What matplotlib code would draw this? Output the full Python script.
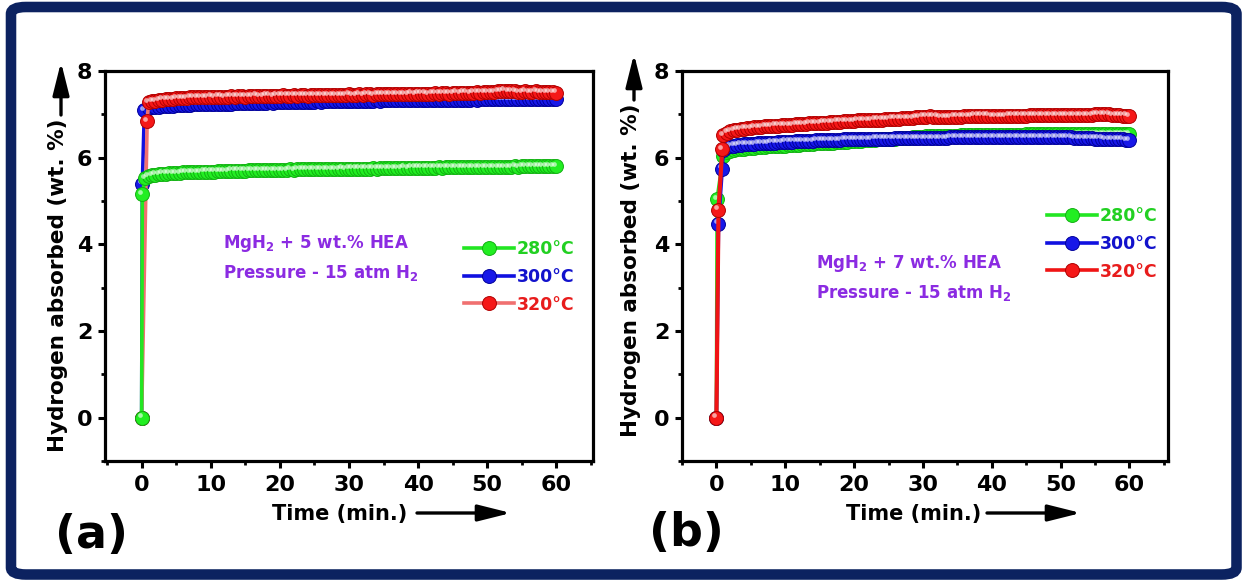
import numpy as np
import matplotlib
matplotlib.use("Agg")
import matplotlib.pyplot as plt
from matplotlib import transforms
from matplotlib.patches import FancyBboxPatch
from matplotlib.lines import Line2D
from matplotlib.ticker import MultipleLocator

# ---------------- data ----------------
labels = ["280°C", "300°C", "320°C"]
xticks = [0, 10, 20, 30, 40, 50, 60]
yticks = [0, 2, 4, 6, 8]

# common sampling grid after the first minute (every 0.5 min, 1 .. 60 min)
tail_time = np.arange(1.0, 60.01, 0.5)

# ---- panel (a): MgH2 + 5 wt.% HEA ----
a280_t0 = [0.0, 0.1, 0.5]
a280_y0 = [0.0, 5.15, 5.52]
a280_tail = [5.58, 5.60, 5.61, 5.62, 5.63, 5.63, 5.64, 5.64, 5.65, 5.65,
             5.66, 5.66, 5.66, 5.67, 5.67, 5.67, 5.68, 5.68, 5.68, 5.68,
             5.69, 5.69, 5.69, 5.69, 5.70, 5.70, 5.70, 5.70, 5.70, 5.71,
             5.71, 5.71, 5.71, 5.71, 5.72, 5.71, 5.72, 5.72, 5.72, 5.72,
             5.72, 5.73, 5.72, 5.73, 5.73, 5.73, 5.73, 5.73, 5.74, 5.73,
             5.74, 5.74, 5.74, 5.74, 5.74, 5.74, 5.75, 5.74, 5.75, 5.75,
             5.75, 5.75, 5.75, 5.75, 5.75, 5.76, 5.75, 5.76, 5.76, 5.76,
             5.76, 5.76, 5.76, 5.76, 5.77, 5.76, 5.77, 5.77, 5.77, 5.77,
             5.77, 5.77, 5.77, 5.77, 5.78, 5.77, 5.78, 5.78, 5.78, 5.78,
             5.78, 5.78, 5.78, 5.78, 5.78, 5.79, 5.78, 5.79, 5.79, 5.79,
             5.79, 5.79, 5.79, 5.79, 5.79, 5.79, 5.80, 5.79, 5.80, 5.80,
             5.80, 5.80, 5.80, 5.80, 5.80, 5.80, 5.80, 5.80, 5.80]

a300_t0 = [0.0, 0.1, 0.4]
a300_y0 = [0.0, 5.40, 7.10]
a300_tail = [7.14, 7.16, 7.17, 7.18, 7.19, 7.19, 7.20, 7.20, 7.21, 7.21,
             7.22, 7.22, 7.22, 7.23, 7.23, 7.23, 7.24, 7.24, 7.24, 7.24,
             7.25, 7.25, 7.25, 7.25, 7.25, 7.26, 7.26, 7.26, 7.26, 7.26,
             7.27, 7.27, 7.27, 7.27, 7.27, 7.28, 7.27, 7.28, 7.28, 7.28,
             7.28, 7.28, 7.29, 7.28, 7.29, 7.29, 7.29, 7.29, 7.29, 7.30,
             7.29, 7.30, 7.30, 7.30, 7.30, 7.30, 7.30, 7.31, 7.30, 7.31,
             7.31, 7.31, 7.31, 7.31, 7.31, 7.31, 7.32, 7.31, 7.32, 7.32,
             7.32, 7.32, 7.32, 7.32, 7.32, 7.33, 7.32, 7.33, 7.33, 7.33,
             7.33, 7.33, 7.33, 7.33, 7.34, 7.33, 7.34, 7.34, 7.34, 7.34,
             7.34, 7.34, 7.34, 7.34, 7.35, 7.34, 7.35, 7.35, 7.35, 7.35,
             7.35, 7.35, 7.35, 7.35, 7.35, 7.36, 7.35, 7.36, 7.36, 7.36,
             7.36, 7.36, 7.36, 7.36, 7.36, 7.36, 7.35, 7.35, 7.35]

a320_t0 = [0.0, 0.8]
a320_y0 = [0.0, 6.85]
a320_tail = [7.28, 7.30, 7.31, 7.33, 7.34, 7.35, 7.35, 7.36, 7.37, 7.37,
             7.38, 7.38, 7.39, 7.39, 7.40, 7.39, 7.40, 7.40, 7.41, 7.40,
             7.41, 7.41, 7.40, 7.41, 7.42, 7.41, 7.42, 7.42, 7.41, 7.42,
             7.42, 7.43, 7.42, 7.42, 7.43, 7.43, 7.42, 7.43, 7.43, 7.44,
             7.43, 7.43, 7.44, 7.43, 7.44, 7.44, 7.43, 7.44, 7.44, 7.45,
             7.44, 7.44, 7.45, 7.44, 7.45, 7.45, 7.44, 7.45, 7.46, 7.45,
             7.45, 7.46, 7.45, 7.46, 7.46, 7.45, 7.46, 7.47, 7.46, 7.46,
             7.47, 7.46, 7.47, 7.47, 7.46, 7.47, 7.48, 7.47, 7.48, 7.48,
             7.48, 7.47, 7.48, 7.49, 7.48, 7.49, 7.49, 7.48, 7.49, 7.50,
             7.49, 7.50, 7.50, 7.49, 7.50, 7.51, 7.50, 7.51, 7.52, 7.51,
             7.52, 7.53, 7.54, 7.55, 7.54, 7.53, 7.53, 7.52, 7.52, 7.53,
             7.52, 7.52, 7.53, 7.52, 7.51, 7.52, 7.51, 7.51, 7.50]

# ---- panel (b): MgH2 + 7 wt.% HEA ----
b280_t0 = [0.0, 0.1]
b280_y0 = [0.0, 5.05]
b280_tail = [6.05, 6.12, 6.15, 6.17, 6.19, 6.20, 6.21, 6.22, 6.23, 6.23,
             6.24, 6.24, 6.25, 6.26, 6.26, 6.27, 6.27, 6.28, 6.28, 6.29,
             6.29, 6.30, 6.30, 6.31, 6.31, 6.32, 6.32, 6.33, 6.33, 6.34,
             6.34, 6.35, 6.35, 6.36, 6.36, 6.37, 6.37, 6.38, 6.38, 6.39,
             6.39, 6.40, 6.40, 6.41, 6.41, 6.42, 6.42, 6.43, 6.43, 6.44,
             6.44, 6.45, 6.45, 6.46, 6.46, 6.47, 6.47, 6.48, 6.48, 6.49,
             6.49, 6.49, 6.50, 6.50, 6.50, 6.51, 6.51, 6.51, 6.51, 6.52,
             6.52, 6.52, 6.52, 6.52, 6.52, 6.53, 6.53, 6.53, 6.53, 6.53,
             6.53, 6.53, 6.53, 6.53, 6.53, 6.53, 6.53, 6.53, 6.54, 6.54,
             6.54, 6.54, 6.54, 6.54, 6.54, 6.54, 6.54, 6.54, 6.54, 6.54,
             6.54, 6.54, 6.54, 6.54, 6.54, 6.54, 6.54, 6.54, 6.54, 6.54,
             6.54, 6.54, 6.54, 6.54, 6.54, 6.54, 6.54, 6.54, 6.54]

b300_t0 = [0.0, 0.3, 0.85]
b300_y0 = [0.0, 4.48, 5.75]
b300_tail = [6.18, 6.24, 6.27, 6.28, 6.29, 6.30, 6.31, 6.31, 6.32, 6.32,
             6.33, 6.33, 6.34, 6.34, 6.35, 6.35, 6.36, 6.36, 6.37, 6.37,
             6.37, 6.38, 6.38, 6.38, 6.39, 6.39, 6.39, 6.40, 6.40, 6.40,
             6.40, 6.41, 6.41, 6.41, 6.41, 6.42, 6.42, 6.42, 6.42, 6.43,
             6.43, 6.43, 6.43, 6.43, 6.44, 6.44, 6.44, 6.44, 6.44, 6.44,
             6.45, 6.45, 6.45, 6.45, 6.45, 6.45, 6.45, 6.46, 6.46, 6.46,
             6.46, 6.46, 6.46, 6.46, 6.46, 6.46, 6.47, 6.47, 6.47, 6.47,
             6.47, 6.47, 6.47, 6.47, 6.47, 6.47, 6.47, 6.47, 6.47, 6.47,
             6.47, 6.47, 6.47, 6.48, 6.48, 6.48, 6.48, 6.48, 6.48, 6.48,
             6.48, 6.48, 6.48, 6.48, 6.48, 6.48, 6.48, 6.47, 6.47, 6.47,
             6.47, 6.47, 6.46, 6.46, 6.46, 6.45, 6.45, 6.45, 6.44, 6.44,
             6.44, 6.43, 6.43, 6.43, 6.42, 6.42, 6.42, 6.41, 6.41]

b320_t0 = [0.0, 0.3, 0.85]
b320_y0 = [0.0, 4.80, 6.20]
b320_tail = [6.52, 6.58, 6.61, 6.63, 6.65, 6.66, 6.67, 6.68, 6.69, 6.70,
             6.70, 6.71, 6.72, 6.72, 6.73, 6.74, 6.74, 6.75, 6.75, 6.76,
             6.76, 6.77, 6.77, 6.78, 6.78, 6.79, 6.79, 6.80, 6.80, 6.81,
             6.81, 6.82, 6.82, 6.83, 6.83, 6.84, 6.84, 6.85, 6.85, 6.86,
             6.86, 6.86, 6.87, 6.87, 6.88, 6.88, 6.88, 6.89, 6.89, 6.90,
             6.90, 6.90, 6.91, 6.91, 6.92, 6.92, 6.93, 6.94, 6.95, 6.95,
             6.96, 6.95, 6.95, 6.94, 6.94, 6.94, 6.94, 6.95, 6.95, 6.95,
             6.96, 6.96, 6.96, 6.97, 6.97, 6.97, 6.97, 6.97, 6.96, 6.96,
             6.96, 6.96, 6.96, 6.97, 6.97, 6.97, 6.97, 6.97, 6.97, 6.98,
             6.98, 6.98, 6.98, 6.98, 6.98, 6.98, 6.98, 6.98, 6.98, 6.98,
             6.98, 6.98, 6.98, 6.98, 6.98, 6.99, 6.99, 6.99, 7.00, 7.00,
             7.01, 7.01, 7.00, 6.99, 6.98, 6.98, 6.97, 6.97, 6.96]

# ---------------- style ----------------
plt.rcParams["font.family"] = ["DejaVu Sans"]
plt.rcParams["font.weight"] = "bold"
plt.rcParams["axes.labelweight"] = "bold"

GREEN = dict(face="#22EE22", edge="#12B012", line="#22E622", text="#22D022")
BLUE = dict(face="#1818E8", edge="#00009A", line="#1010E0", text="#1212CC")
RED = dict(face="#F51818", edge="#B00000", line="#F01414", text="#E81C1C")
RED_A = dict(face="#F51818", edge="#B00000", line="#F07070", text="#E81C1C")
PURPLE = "#8B2BE2"
NAVY = "#0C2260"
MS = 10.0

W, H = 1242, 580
fig = plt.figure(figsize=(W / 100, H / 100), dpi=100)


def fx(x):
    return x / W


def fy(y):
    return 1 - y / H


def series(t0, y0, tail):
    return np.concatenate([t0, tail_time]), np.concatenate([y0, tail])


def draw(ax, t, y, c, lw=2.6):
    ax.plot(t, y, "-", color=c["line"], lw=lw, marker="o", ms=MS,
            mfc=c["face"], mec=c["edge"], mew=0.7, clip_on=False)
    hl = transforms.offset_copy(ax.transData, fig=fig, x=-1.5, y=1.6, units="points")
    ax.plot(t, y, "o", ms=3.4, color="white", alpha=0.6, mec="none",
            transform=hl, clip_on=False)


def style_axes(ax, xlim):
    ax.set_xlim(*xlim)
    ax.set_ylim(-1, 8)
    ax.set_xticks(xticks)
    ax.set_yticks(yticks)
    ax.xaxis.set_minor_locator(MultipleLocator(5))
    ax.yaxis.set_minor_locator(MultipleLocator(1))
    for s in ax.spines.values():
        s.set_linewidth(2.3)
    ax.tick_params(which="major", direction="out", length=5, width=2.2,
                   labelsize=16, top=False, right=False)
    ax.tick_params(axis="x", which="major", pad=5)
    ax.tick_params(axis="y", which="major", pad=4)
    ax.tick_params(which="minor", direction="out", length=3, width=2.0,
                   top=False, right=False)
    for lab in ax.get_xticklabels() + ax.get_yticklabels():
        lab.set_fontweight("bold")


def legend(ax, cols, x_left, y_mid):
    handles = [Line2D([], [], color=c["line"], lw=2.6, marker="o", ms=MS,
                      mfc=c["face"], mec=c["edge"], mew=0.7) for c in cols]
    ax.legend(handles, labels, loc="center left",
              bbox_to_anchor=(fx(x_left), fy(y_mid)), bbox_transform=fig.transFigure,
              frameon=False, handlelength=2.9, handletextpad=0.12,
              labelspacing=0.55, borderpad=0, borderaxespad=0, numpoints=1,
              prop=dict(weight="bold", size=12.5),
              labelcolor=[c["text"] for c in cols])


def arrow(x0, y0, x1, y1):
    fig.add_artist(matplotlib.patches.FancyArrowPatch(
        (fx(x0), fy(y0)), (fx(x1), fy(y1)), transform=fig.transFigure,
        arrowstyle="-|>,head_length=1.0,head_width=0.25", mutation_scale=20,
        lw=2.4, color="black", shrinkA=0, shrinkB=0))


# ---------------- panel (a) ----------------
ax_a = fig.add_axes([fx(105), fy(461), (593 - 105) / W, (461 - 71) / H])
style_axes(ax_a, (-5.3, 65.3))
draw(ax_a, *series(a300_t0, a300_y0, a300_tail), BLUE)
draw(ax_a, *series(a320_t0, a320_y0, a320_tail), RED_A)
draw(ax_a, *series(a280_t0, a280_y0, a280_tail), GREEN)
legend(ax_a, [GREEN, BLUE, RED_A], 464, 277)
fig.text(fx(223), fy(248), r"MgH$_\mathbf{2}$ + 5 wt.% HEA", color=PURPLE,
         fontsize=12, weight="bold", ha="left", va="baseline")
fig.text(fx(223), fy(278), r"Pressure - 15 atm H$_\mathbf{2}$", color=PURPLE,
         fontsize=12, weight="bold", ha="left", va="baseline")
fig.text(fx(58), fy(285), "Hydrogen absorbed (wt. %)", rotation=90,
         ha="center", va="center", fontsize=15.5, weight="bold")
arrow(61, 115, 61, 62)
fig.text(fx(340), fy(514), "Time (min.)", ha="center", va="center",
         fontsize=15, weight="bold")
arrow(417, 513, 511, 513)
fig.text(fx(91), fy(535), "(a)", ha="center", va="center", fontsize=33,
         weight="bold")

# ---------------- panel (b) ----------------
ax_b = fig.add_axes([fx(682), fy(461), (1168 - 682) / W, (461 - 71) / H])
style_axes(ax_b, (-5.0, 65.6))
draw(ax_b, *series(b280_t0, b280_y0, b280_tail), GREEN)
draw(ax_b, *series(b300_t0, b300_y0, b300_tail), BLUE)
draw(ax_b, *series(b320_t0, b320_y0, b320_tail), RED, lw=3.0)
legend(ax_b, [GREEN, BLUE, RED], 1047, 244)
fig.text(fx(816), fy(268), r"MgH$_\mathbf{2}$ + 7 wt.% HEA", color=PURPLE,
         fontsize=12, weight="bold", ha="left", va="baseline")
fig.text(fx(816), fy(298), r"Pressure - 15 atm H$_\mathbf{2}$", color=PURPLE,
         fontsize=12, weight="bold", ha="left", va="baseline")
fig.text(fx(631), fy(270), "Hydrogen absorbed (wt. %)", rotation=90,
         ha="center", va="center", fontsize=15.5, weight="bold")
arrow(634, 100, 634, 54)
fig.text(fx(914), fy(514), "Time (min.)", ha="center", va="center",
         fontsize=15, weight="bold")
arrow(987, 513, 1081, 513)
fig.text(fx(686), fy(533), "(b)", ha="center", va="center", fontsize=33,
         weight="bold")

# ---------------- outer frame ----------------
frame = FancyBboxPatch((fx(11), fy(574.5)), fx(1236.5) - fx(11), fy(7) - fy(574.5),
                       boxstyle="round,pad=0,rounding_size=0.012",
                       transform=fig.transFigure, fill=False, ec=NAVY, lw=7.6,
                       zorder=10)
fig.patches.append(frame)

fig.savefig("out.png", dpi=100, facecolor="white")
